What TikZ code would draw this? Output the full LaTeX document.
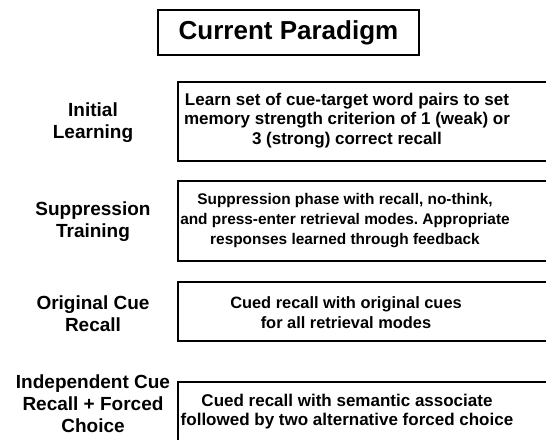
\documentclass[tikz,border=0pt]{standalone}
\usepackage{fontspec}
\setmainfont{Liberation Sans}
\frenchspacing
\begin{document}
\begin{tikzpicture}[x=1pt,y=-1pt,
  titlebox/.style={draw, line width=2pt, minimum width=261pt, minimum height=45pt, inner sep=0pt,
    font=\fontsize{26}{30}\selectfont\bfseries},
  stagelabel/.style={align=center, inner sep=0pt, font=\fontsize{19}{22}\selectfont\bfseries},
  boxtext/.style={align=center, inner sep=0pt, font=\fontsize{17}{19.8}\selectfont\bfseries},
  frame/.style={line width=2pt}]
\useasboundingbox (0,0) rectangle (546,439);
\clip (0,0) rectangle (546,439);
\fill[white] (0,0) rectangle (546,439);

\node[titlebox] (title) at (288.5,32.5) {Current Paradigm};

% stage labels
\node[stagelabel] (l1) at (93,123) {Initial\\Learning};
\node[stagelabel] (l2) at (93,222) {Suppression\\Training};
\node[stagelabel] (l3) at (93,314) {Original Cue\\Recall};
\node[stagelabel] (l4) at (93,404) {Independent Cue\\Recall + Forced\\Choice};

% frames (clipped at the right edge)
\draw[frame] (178,82) rectangle (570,161);
\draw[frame] (178,181) rectangle (570,261);
\draw[frame] (178,282) rectangle (570,341);
\draw[frame] (178,382) rectangle (570,470);

% box texts
\node[boxtext] (t1) at (347,120.5) {Learn set of cue-target word pairs to set\\memory strength criterion of 1 (weak) or\\3 (strong) correct recall};
\node[boxtext, font=\fontsize{15.4}{20}\selectfont\bfseries] (t2) at (345,220.5) {Suppression phase with recall, no-think,\\and press-enter retrieval modes. Appropriate\\responses learned through feedback};
\node[boxtext, font=\fontsize{16.4}{19.5}\selectfont\bfseries] (t3) at (346,312.5) {Cued recall with original cues\\for all retrieval modes};
\node[boxtext] (t4) at (347,411.5) {Cued recall with semantic associate\\followed by two alternative forced choice};
\end{tikzpicture}
\end{document}
